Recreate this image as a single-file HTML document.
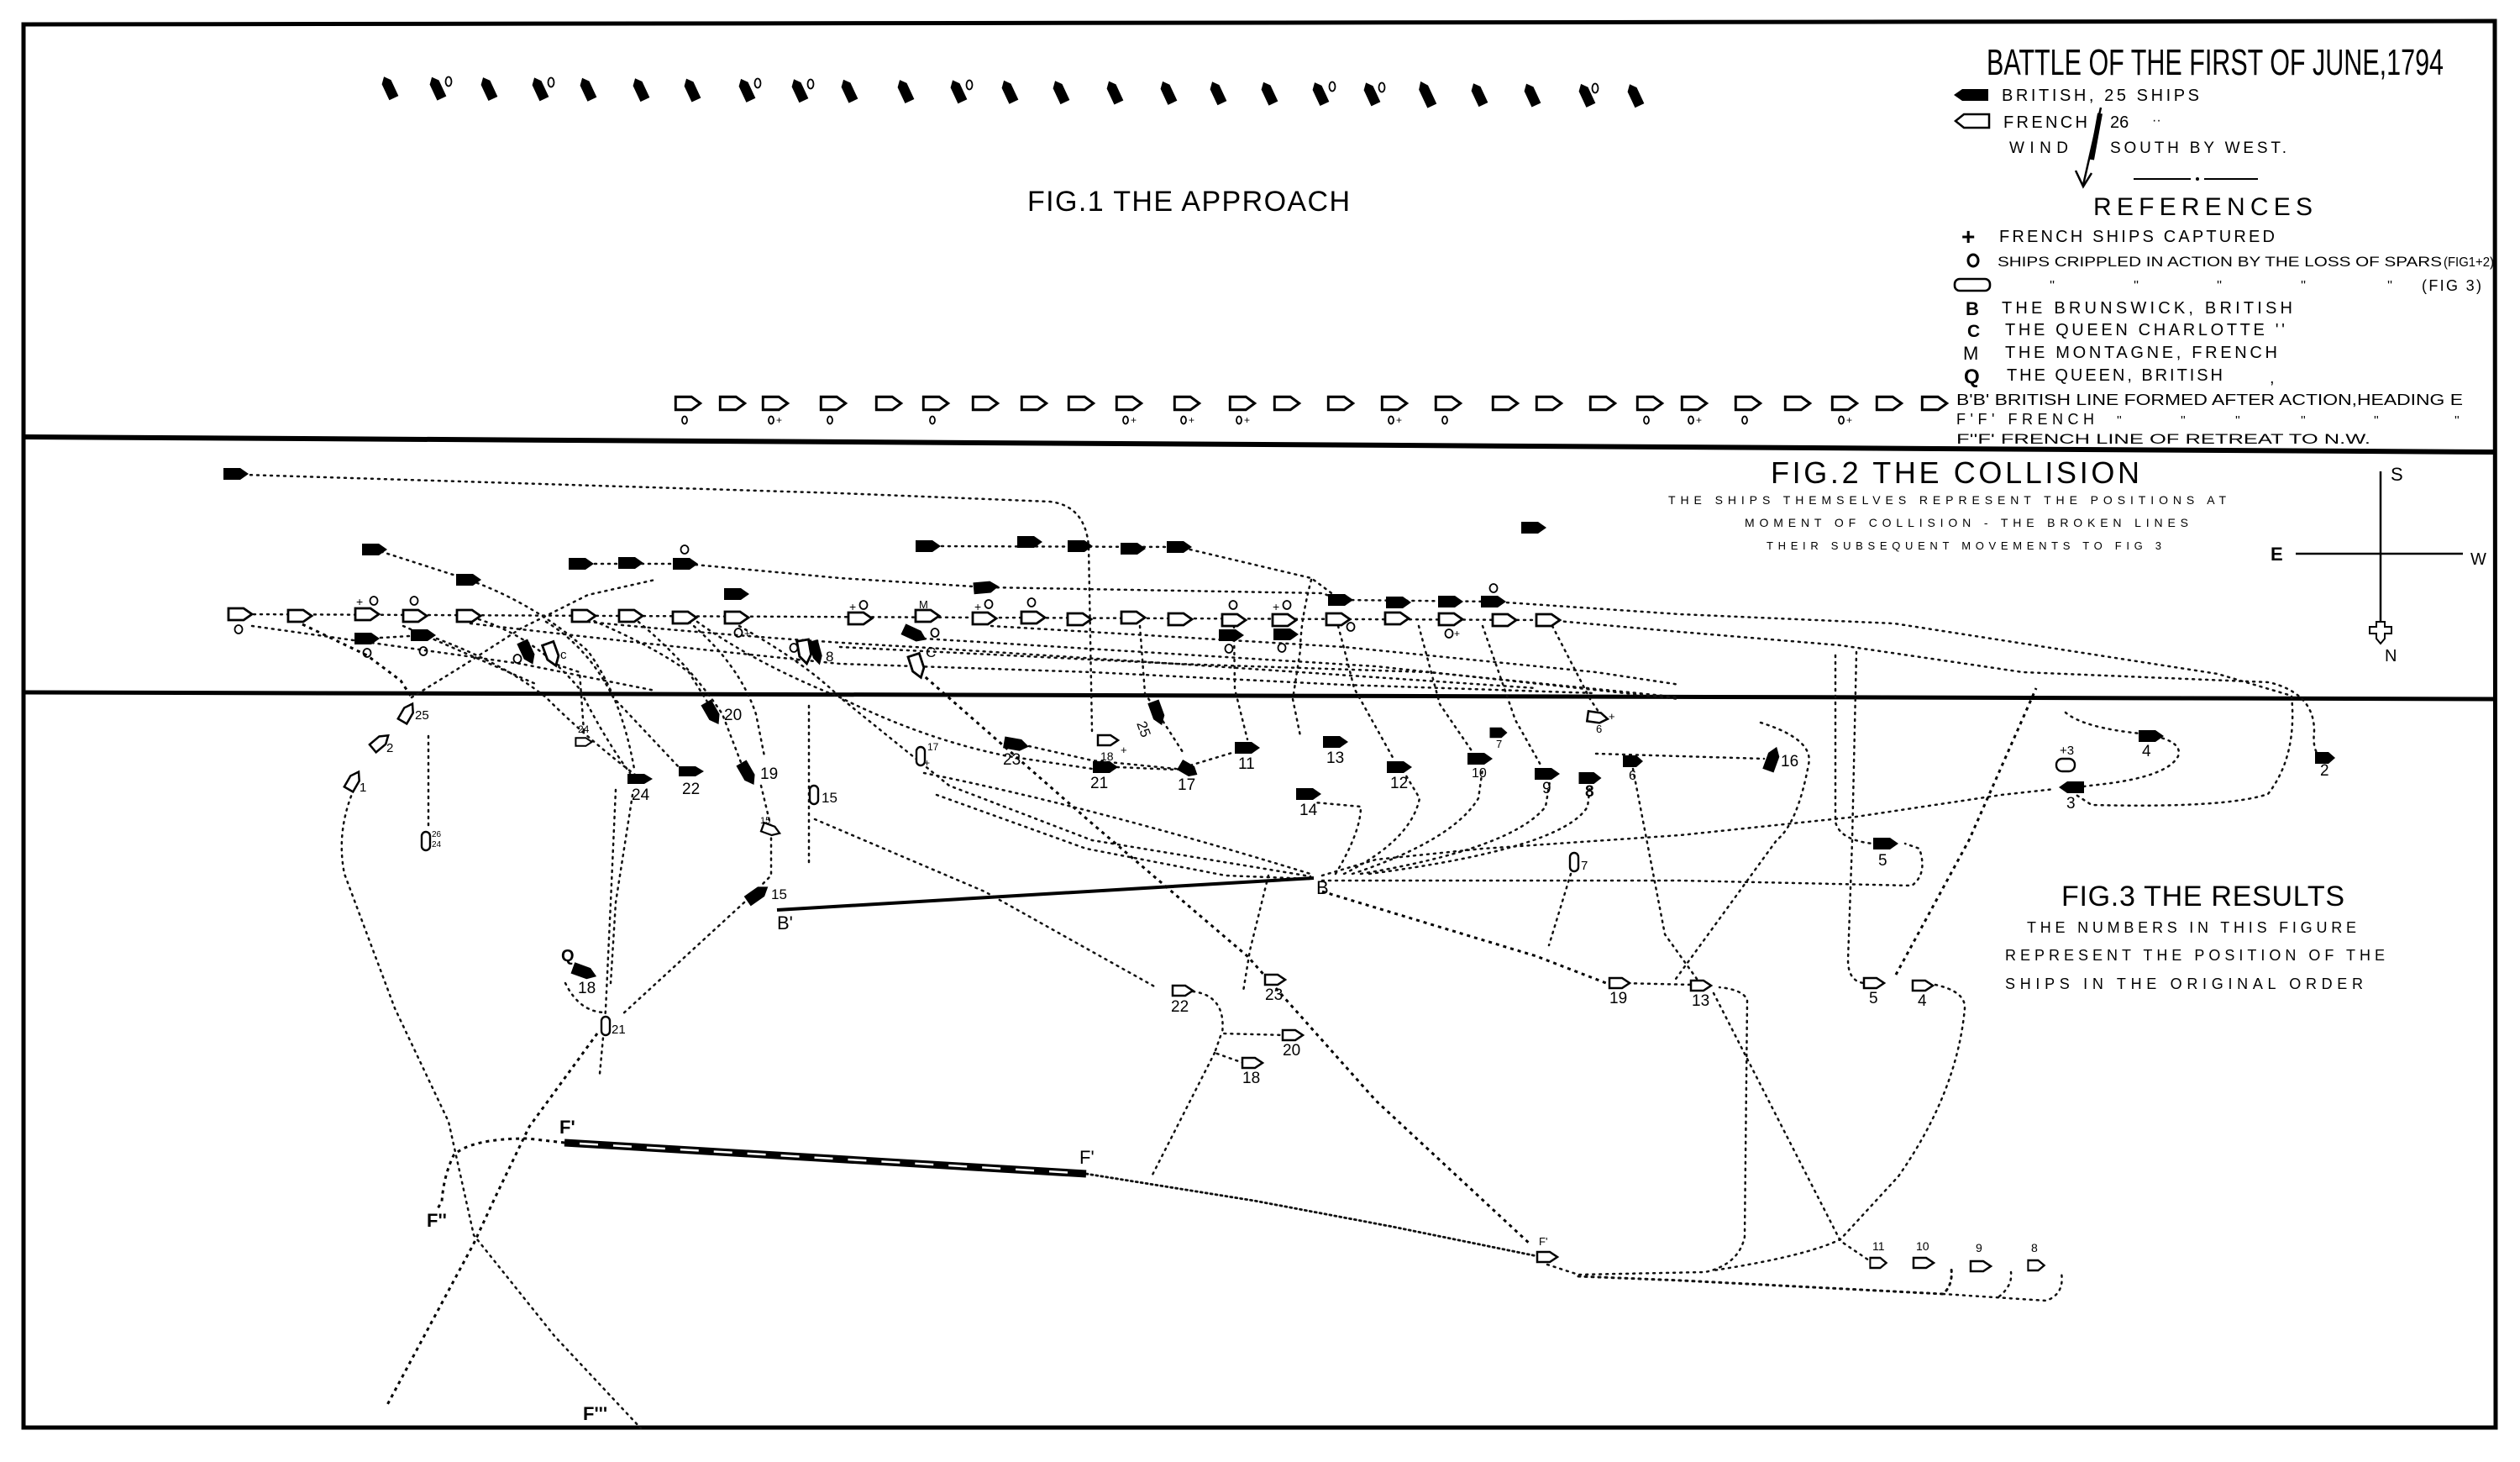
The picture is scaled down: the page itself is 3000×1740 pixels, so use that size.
<!DOCTYPE html>
<html><head><meta charset="utf-8"><style>
html,body{margin:0;padding:0;background:#fff}
svg{display:block}
text{font-family:"Liberation Sans",sans-serif;fill:#000}
.d{fill:none;stroke:#111;stroke-width:2.5;stroke-dasharray:2 6;stroke-linecap:round}
.dd{fill:none;stroke:#000;stroke-width:3;stroke-dasharray:4 5}
.o{fill:none;stroke:#000;stroke-width:1.8}
.n{font-size:19px}
</style></head><body>
<svg width="3000" height="1740" viewBox="0 0 3000 1740" xmlns="http://www.w3.org/2000/svg">
<defs>
<path id="bs" d="M-15,-7 L5,-7 L15,0 L5,7 L-15,7 Z" fill="#000"/>
<path id="bs1" d="M-14,-6 L7,-6 L14,0 L7,6 L-14,6 Z" fill="#000"/>
<path id="fs" d="M-14,-7 L4,-7 L14,0 L4,7 L-14,7 Z" fill="#fff" stroke="#000" stroke-width="2.8"/>
<path id="fs2" d="M-12,-6 L3,-6 L12,0 L3,6 L-12,6 Z" fill="#fff" stroke="#000" stroke-width="2.5"/>
<rect id="oc" x="-5" y="-11" width="10" height="22" rx="5" fill="#fff" stroke="#000" stroke-width="2.4"/>
</defs>

<!-- frame -->
<path d="M28,29 L2970,25 L2971,1699 L28,1699 Z" fill="none" stroke="#000" stroke-width="5"/>
<path d="M28,520 L2970,538" stroke="#000" stroke-width="6"/>
<path d="M28,824 L2970,832" stroke="#000" stroke-width="5"/>

<!-- FIG 1 -->
<g>
<use href="#bs1" transform="translate(463,104) rotate(-115)"/>
<use href="#bs1" transform="translate(520,104.4) rotate(-115)"/>
<use href="#bs1" transform="translate(581,104.8) rotate(-115)"/>
<use href="#bs1" transform="translate(642,105.1) rotate(-115)"/>
<use href="#bs1" transform="translate(699,105.5) rotate(-115)"/>
<use href="#bs1" transform="translate(762,105.9) rotate(-115)"/>
<use href="#bs1" transform="translate(823,106.3) rotate(-115)"/>
<use href="#bs1" transform="translate(888,106.6) rotate(-115)"/>
<use href="#bs1" transform="translate(951,107) rotate(-115)"/>
<use href="#bs1" transform="translate(1010,107.4) rotate(-115)"/>
<use href="#bs1" transform="translate(1077,107.8) rotate(-115)"/>
<use href="#bs1" transform="translate(1140,108.1) rotate(-115)"/>
<use href="#bs1" transform="translate(1201,108.5) rotate(-115)"/>
<use href="#bs1" transform="translate(1262,108.9) rotate(-115)"/>
<use href="#bs1" transform="translate(1326,109.3) rotate(-115)"/>
<use href="#bs1" transform="translate(1390,109.6) rotate(-115)"/>
<use href="#bs1" transform="translate(1449,110) rotate(-115)"/>
<use href="#bs1" transform="translate(1510,110.4) rotate(-115)"/>
<use href="#bs1" transform="translate(1571,110.8) rotate(-115)"/>
<use href="#bs1" transform="translate(1632,111.1) rotate(-115)"/>
<use href="#bs1" transform="translate(1698,111.5) rotate(-115) scale(1.15,1)"/>
<use href="#bs1" transform="translate(1760,111.9) rotate(-115)"/>
<use href="#bs1" transform="translate(1823,112.3) rotate(-115)"/>
<use href="#bs1" transform="translate(1888,112.6) rotate(-115)"/>
<use href="#bs1" transform="translate(1946,113) rotate(-115)"/>
<ellipse class="o" cx="534" cy="97" rx="3.5" ry="5.5"/>
<ellipse class="o" cx="656" cy="98" rx="3.5" ry="5.5"/>
<ellipse class="o" cx="902" cy="99" rx="3.5" ry="5.5"/>
<ellipse class="o" cx="965" cy="100" rx="3.5" ry="5.5"/>
<ellipse class="o" cx="1154" cy="101" rx="3.5" ry="5.5"/>
<ellipse class="o" cx="1586" cy="103" rx="3.5" ry="5.5"/>
<ellipse class="o" cx="1645" cy="104" rx="3.5" ry="5.5"/>
<ellipse class="o" cx="1899" cy="105" rx="3.5" ry="5.5"/>
</g>
<text x="1223" y="251" font-size="34" textLength="384" lengthAdjust="spacing">FIG.1 THE APPROACH</text>

<g>
<use href="#fs" transform="translate(819,480) scale(1.05,1.1)"/>
<use href="#fs" transform="translate(872,480) scale(1.05,1.1)"/>
<use href="#fs" transform="translate(923,480) scale(1.05,1.1)"/>
<use href="#fs" transform="translate(992,480) scale(1.05,1.1)"/>
<use href="#fs" transform="translate(1058,480) scale(1.05,1.1)"/>
<use href="#fs" transform="translate(1114,480) scale(1.05,1.1)"/>
<use href="#fs" transform="translate(1173,480) scale(1.05,1.1)"/>
<use href="#fs" transform="translate(1231,480) scale(1.05,1.1)"/>
<use href="#fs" transform="translate(1287,480) scale(1.05,1.1)"/>
<use href="#fs" transform="translate(1344,480) scale(1.05,1.1)"/>
<use href="#fs" transform="translate(1413,480) scale(1.05,1.1)"/>
<use href="#fs" transform="translate(1479,480) scale(1.05,1.1)"/>
<use href="#fs" transform="translate(1532,480) scale(1.05,1.1)"/>
<use href="#fs" transform="translate(1596,480) scale(1.05,1.1)"/>
<use href="#fs" transform="translate(1660,480) scale(1.05,1.1)"/>
<use href="#fs" transform="translate(1724,480) scale(1.05,1.1)"/>
<use href="#fs" transform="translate(1792,480) scale(1.05,1.1)"/>
<use href="#fs" transform="translate(1844,480) scale(1.05,1.1)"/>
<use href="#fs" transform="translate(1908,480) scale(1.05,1.1)"/>
<use href="#fs" transform="translate(1964,480) scale(1.05,1.1)"/>
<use href="#fs" transform="translate(2017,480) scale(1.05,1.1)"/>
<use href="#fs" transform="translate(2081,480) scale(1.05,1.1)"/>
<use href="#fs" transform="translate(2140,480) scale(1.05,1.1)"/>
<use href="#fs" transform="translate(2196,480) scale(1.05,1.1)"/>
<use href="#fs" transform="translate(2249,480) scale(1.05,1.1)"/>
<use href="#fs" transform="translate(2303,480) scale(1.05,1.1)"/>
<ellipse class="o" cx="815" cy="500" rx="3" ry="4.5"/>
<ellipse class="o" cx="918" cy="500" rx="3" ry="4.5"/><text x="924" y="504" font-size="12">+</text>
<ellipse class="o" cx="988" cy="500" rx="3" ry="4.5"/>
<ellipse class="o" cx="1110" cy="500" rx="3" ry="4.5"/>
<ellipse class="o" cx="1340" cy="500" rx="3" ry="4.5"/><text x="1346" y="504" font-size="12">+</text>
<ellipse class="o" cx="1409" cy="500" rx="3" ry="4.5"/><text x="1415" y="504" font-size="12">+</text>
<ellipse class="o" cx="1475" cy="500" rx="3" ry="4.5"/><text x="1481" y="504" font-size="12">+</text>
<ellipse class="o" cx="1656" cy="500" rx="3" ry="4.5"/><text x="1662" y="504" font-size="12">+</text>
<ellipse class="o" cx="1720" cy="500" rx="3" ry="4.5"/>
<ellipse class="o" cx="1960" cy="500" rx="3" ry="4.5"/>
<ellipse class="o" cx="2013" cy="500" rx="3" ry="4.5"/><text x="2019" y="504" font-size="12">+</text>
<ellipse class="o" cx="2077" cy="500" rx="3" ry="4.5"/>
<ellipse class="o" cx="2192" cy="500" rx="3" ry="4.5"/><text x="2198" y="504" font-size="12">+</text>
</g>

<!-- LEGEND -->
<text x="2365" y="89" font-size="44" textLength="544" lengthAdjust="spacingAndGlyphs">BATTLE OF THE FIRST OF JUNE,1794</text>
<path d="M2326,113 L2336,106 L2367,106 L2367,120 L2336,120 Z" fill="#000"/>
<text x="2383" y="120" font-size="20" textLength="235" lengthAdjust="spacing">BRITISH, 25 SHIPS</text>
<path d="M2328,144 L2338,136 L2368,136 L2368,152 L2338,152 Z" fill="none" stroke="#000" stroke-width="2.5"/>
<text x="2385" y="152" font-size="20" textLength="100" lengthAdjust="spacing">FRENCH</text>
<text x="2512" y="152" font-size="20">26</text>
<text x="2562" y="148" font-size="16">··</text>
<text x="2392" y="182" font-size="19" textLength="70" lengthAdjust="spacing">WIND</text>
<text x="2512" y="182" font-size="19" textLength="210" lengthAdjust="spacing">SOUTH BY WEST.</text>
<path d="M2501,128 L2480,220" stroke="#000" stroke-width="2.5"/>
<path d="M2500,135 L2490,190" stroke="#000" stroke-width="6"/>
<path d="M2471,203 L2480,222 L2490,206" fill="none" stroke="#000" stroke-width="2.5"/>
<path d="M2540,213 L2608,213 M2624,213 L2688,213" stroke="#000" stroke-width="2"/>
<circle cx="2616" cy="213" r="2"/>
<text x="2492" y="256" font-size="30" textLength="261" lengthAdjust="spacing">REFERENCES</text>
<text x="2335" y="291" font-size="28" font-weight="bold">+</text>
<text x="2380" y="288" font-size="20" textLength="328" lengthAdjust="spacing">FRENCH SHIPS CAPTURED</text>
<ellipse cx="2349" cy="310" rx="6" ry="7" fill="none" stroke="#000" stroke-width="3"/>
<text x="2378" y="317" font-size="17" textLength="529" lengthAdjust="spacingAndGlyphs">SHIPS CRIPPLED IN ACTION BY THE LOSS OF SPARS</text>
<text x="2909" y="317" font-size="16" textLength="60" lengthAdjust="spacingAndGlyphs">(FIG1+2)</text>
<rect x="2327" y="332" width="42" height="14" rx="6" fill="none" stroke="#000" stroke-width="2.6"/>
<text x="2440" y="345" font-size="16">''</text><text x="2540" y="345" font-size="16">''</text><text x="2639" y="345" font-size="16">''</text><text x="2739" y="345" font-size="16">''</text><text x="2842" y="345" font-size="16">''</text>
<text x="2883" y="346" font-size="18" textLength="71" lengthAdjust="spacing">(FIG 3)</text>
<text x="2340" y="375" font-size="22" font-weight="bold">B</text>
<text x="2383" y="373" font-size="20" textLength="346" lengthAdjust="spacing">THE BRUNSWICK, BRITISH</text>
<text x="2342" y="401" font-size="21" font-weight="bold">C</text>
<text x="2387" y="399" font-size="20" textLength="333" lengthAdjust="spacing">THE QUEEN CHARLOTTE ''</text>
<text x="2337" y="428" font-size="22">M</text>
<text x="2387" y="426" font-size="20" textLength="324" lengthAdjust="spacing">THE MONTAGNE, FRENCH</text>
<text x="2338" y="456" font-size="24" font-weight="bold">Q</text>
<text x="2389" y="453" font-size="20" textLength="257" lengthAdjust="spacing">THE QUEEN, BRITISH</text>
<text x="2702" y="456" font-size="20">,</text>
<text x="2329" y="482" font-size="18" textLength="603" lengthAdjust="spacingAndGlyphs">B'B' BRITISH LINE FORMED AFTER ACTION,HEADING E</text>
<text x="2329" y="505" font-size="18" textLength="164" lengthAdjust="spacing">F'F' FRENCH</text>
<text x="2520" y="505" font-size="15">''</text><text x="2596" y="505" font-size="15">''</text><text x="2661" y="505" font-size="15">''</text><text x="2739" y="505" font-size="15">''</text><text x="2826" y="505" font-size="15">''</text><text x="2922" y="505" font-size="15">''</text>
<text x="2329" y="528" font-size="17" textLength="493" lengthAdjust="spacingAndGlyphs">F''F' FRENCH LINE OF RETREAT TO N.W.</text>

<!-- FIG 2 text -->
<text x="2108" y="575" font-size="36" textLength="439" lengthAdjust="spacing">FIG.2 THE COLLISION</text>
<text x="1986" y="600" font-size="14" textLength="664" lengthAdjust="spacing">THE SHIPS THEMSELVES REPRESENT THE POSITIONS AT</text>
<text x="2077" y="627" font-size="14" textLength="528" lengthAdjust="spacing">MOMENT OF COLLISION - THE BROKEN LINES</text>
<text x="2103" y="654" font-size="13" textLength="470" lengthAdjust="spacing">THEIR SUBSEQUENT MOVEMENTS TO FIG 3</text>
<path d="M2834,561 L2834,742 M2733,659 L2932,659" stroke="#000" stroke-width="2.5"/>
<path d="M2829,740 L2839,740 L2839,746 L2847,746 L2847,754 L2839,754 L2839,760 L2834,766 L2829,760 L2829,754 L2821,754 L2821,746 L2829,746 Z" fill="#fff" stroke="#000" stroke-width="2"/>
<text x="2846" y="572" font-size="22">S</text>
<text x="2703" y="667" font-size="22" font-weight="bold">E</text>
<text x="2941" y="672" font-size="20">W</text>
<text x="2839" y="787" font-size="20">N</text>

<!-- FIG 3 text -->
<text x="2454" y="1078" font-size="34" textLength="337" lengthAdjust="spacing">FIG.3 THE RESULTS</text>
<text x="2413" y="1110" font-size="18" textLength="392" lengthAdjust="spacing">THE NUMBERS IN THIS FIGURE</text>
<text x="2387" y="1143" font-size="18" textLength="452" lengthAdjust="spacing">REPRESENT THE POSITION OF THE</text>
<text x="2387" y="1177" font-size="18" textLength="426" lengthAdjust="spacing">SHIPS IN THE ORIGINAL ORDER</text>

<!-- DOTTED TRACKS -->
<g>
<path class="d" d="M290,565 L1000,587 L1250,597 Q1292,602 1296,650 L1300,870"/>
<path class="d" d="M446,654 L558,690 Q640,720 700,775 Q740,830 755,915"/>
<path class="d" d="M692,671 L816,671 L1000,688 L1174,699 L1574,706 L1596,714 L1778,716"/>
<path class="d" d="M286,731 L1843,738 L2000,752 L2191,768 L2408,800 L2701,812 Q2755,825 2755,870 Q2752,900 2768,902"/>
<path class="d" d="M1778,716 L2000,731 L2255,742 L2640,802 L2728,828 Q2735,900 2700,945 Q2650,962 2490,958 L2470,945"/>
<path class="d" d="M1105,650 L1404,651 L1561,688 L1596,714"/>
<path class="d" d="M437,760 L504,756"/>
<path class="dd" d="M360,743 L437,780 L477,810 L490,830"/>
<path class="d" d="M490,830 L550,793 L620,748 L700,708 L780,690"/>
<path class="d" d="M570,737 Q640,760 690,820 Q720,880 750,920"/>
<path class="d" d="M520,760 Q600,790 650,830 Q700,880 760,925"/>
<path class="d" d="M650,740 Q700,770 730,830 L810,915"/>
<path class="d" d="M700,736 Q780,770 820,800 L845,840"/>
<path class="d" d="M760,740 Q820,790 860,850 L885,915"/>
<path class="d" d="M820,740 Q880,790 900,850 L910,900"/>
<path class="d" d="M880,745 Q960,790 1000,830 L1130,935 L1300,1000 L1560,1043"/>
<path class="d" d="M830,740 Q900,790 1000,830 Q1100,880 1200,900 L1300,915"/>
<path class="d" d="M1100,760 L1638,793 L2000,832"/>
<path class="d" d="M1000,770 L1400,790 L1829,819"/>
<path class="d" d="M1180,745 L1600,770 L1900,800 L2000,815"/>
<path class="d" d="M300,745 L620,790 L780,822"/>
<path class="d" d="M480,745 Q560,780 640,815"/>
<path class="d" d="M700,740 Q900,760 1089,770 L1400,790 L1700,800 L2000,830"/>
<path class="d" d="M560,742 Q800,770 1000,790 L1300,800 L1600,815 L1900,825"/>
<path class="d" d="M1357,745 L1363,825 L1408,895"/>
<path class="d" d="M1561,690 Q1548,740 1548,774 L1539,832 L1548,876"/>
<path class="d" d="M1593,745 Q1605,790 1612,819 L1660,905"/>
<path class="d" d="M1689,745 L1714,838 L1753,895"/>
<path class="d" d="M1765,745 L1804,857 L1835,912"/>
<path class="d" d="M1848,745 L1893,832 L1905,850"/>
<path class="d" d="M1469,745 L1470,820 L1485,880"/>
<path class="d" d="M2210,776 L2205,1000 L2200,1142 Q2200,1168 2219,1170"/>
<path class="d" d="M2185,780 L2185,978 Q2190,1000 2230,1004"/>
<path class="d" d="M2459,848 Q2480,866 2548,873 Q2600,880 2593,900 Q2580,925 2497,934 L2480,936"/>
<path class="d" d="M2096,860 Q2160,880 2153,910 Q2140,980 2115,1000 L1995,1165"/>
<path class="d" d="M1900,897 L2100,903"/>
<path class="dd" d="M1095,800 L1300,980 L1485,1138 L1638,1310 L1823,1482"/>
<path class="d" style="stroke-dasharray:2 4;stroke-width:2.8" d="M1293,1397 L1493,1429 L1658,1460 L1830,1495"/>
<path class="d" d="M1842,1505 L1879,1517 L2030,1514 Q2070,1505 2077,1472 L2080,1190 Q2075,1178 2047,1175"/>
<path class="d" style="stroke-width:3" d="M1879,1519 L2002,1524 L2313,1540 Q2325,1530 2323,1510"/>
<path class="d" d="M2313,1540 L2436,1548 Q2458,1540 2454,1515"/>
<path class="d" d="M2380,1543 Q2396,1530 2394,1514"/>
<path class="d" d="M2040,1182 L2191,1477 L2225,1500"/>
<path class="d" d="M2304,1172 Q2340,1180 2339,1200 Q2330,1300 2260,1400 L2191,1475 Q2150,1495 2040,1512"/>
<path class="dd" d="M2257,1160 L2344,1000 L2424,819"/>
<path class="d" d="M1944,915 L1982,1112 L2020,1165"/>
<path class="d" d="M1870,1040 L1844,1125"/>
<path class="d" d="M1574,1048 L2000,1048 L2276,1054 Q2295,1040 2285,1010 L2268,1004"/>
<path class="d" d="M1574,1042 L1638,1023 L1765,1010 L2000,994 L2210,972 L2383,946 L2446,939"/>
<path class="dd" d="M1574,1061 L1829,1138 L1912,1170"/>
<path class="d" d="M1930,1170 L2015,1172"/>
<path class="d" d="M1590,1040 Q1620,990 1620,960 L1565,955"/>
<path class="d" d="M1600,1040 Q1680,1000 1690,950 L1672,920"/>
<path class="d" d="M1610,1040 Q1730,1000 1760,950 L1765,915"/>
<path class="d" d="M1620,1040 Q1800,1010 1840,960 L1845,930"/>
<path class="d" d="M1630,1040 Q1860,1010 1890,960 L1893,935"/>
<path class="d" d="M421,940 Q400,990 410,1040 L470,1200 L534,1335 L564,1470 L660,1590 L763,1700"/>
<path class="d" d="M510,876 L510,988"/>
<path class="dd" d="M672,1360 L628,1355 Q560,1355 540,1375 Q528,1400 526,1430 L520,1440"/>
<path class="dd" d="M711,1230 L630,1341 L589,1426 L564,1480 L461,1672"/>
<path class="d" d="M733,940 L727,1074 L721,1202 L714,1278"/>
<path class="d" d="M753,946 L733,1074 L727,1170"/>
<path class="d" d="M673,1170 Q690,1205 721,1205"/>
<path class="d" d="M886,1074 L740,1208"/>
<path class="d" d="M906,935 L918,985 L918,1042 L905,1055"/>
<path class="d" d="M970,975 L1172,1061 L1376,1175"/>
<path class="d" d="M1115,946 L1293,1010 L1459,1042 L1560,1046"/>
<path class="d" d="M1100,920 Q1300,960 1560,1040"/>
<path class="d" d="M1225,888 L1300,905 L1400,915"/>
<path class="d" d="M1330,913 L1400,916 L1470,895"/>
<path class="d" d="M1510,1042 L1488,1131 L1480,1180"/>
<path class="d" d="M1420,1180 Q1460,1185 1455,1230 L1530,1232"/>
<path class="d" d="M1453,1233 L1446,1253 L1480,1265"/>
<path class="d" d="M1446,1253 L1370,1402"/>
<path class="d" d="M963,840 L963,1030"/>
<path class="d" d="M695,870 L690,800 L660,790"/>
</g>

<!-- FIG 2 ships -->
<g>
<use href="#bs" transform="translate(281,564)"/>
<use href="#bs" transform="translate(446,654)"/>
<use href="#bs" transform="translate(558,690)"/>
<use href="#bs" transform="translate(692,671)"/>
<use href="#bs" transform="translate(751,670)"/>
<use href="#bs" transform="translate(816,671)"/>
<use href="#bs" transform="translate(877,707)"/>
<use href="#bs" transform="translate(437,760)"/>
<use href="#bs" transform="translate(504,756)"/>
<use href="#bs" transform="translate(1105,650)"/>
<use href="#bs" transform="translate(1226,645)"/>
<use href="#bs" transform="translate(1286,650)"/>
<use href="#bs" transform="translate(1349,653)"/>
<use href="#bs" transform="translate(1404,651)"/>
<use href="#bs" transform="translate(1174,699) rotate(-5)"/>
<use href="#bs" transform="translate(1826,628)"/>
<use href="#bs" transform="translate(1596,714)"/>
<use href="#bs" transform="translate(1665,717)"/>
<use href="#bs" transform="translate(1727,716)"/>
<use href="#bs" transform="translate(1778,716)"/>
<use href="#bs" transform="translate(1466,756)"/>
<use href="#bs" transform="translate(1531,755)"/>
<use href="#fs" transform="translate(286,731)"/>
<use href="#fs" transform="translate(357,733)"/>
<use href="#fs" transform="translate(437,731)"/>
<use href="#fs" transform="translate(494,733)"/>
<use href="#fs" transform="translate(558,733)"/>
<use href="#fs" transform="translate(695,733)"/>
<use href="#fs" transform="translate(751,733)"/>
<use href="#fs" transform="translate(815,735)"/>
<use href="#fs" transform="translate(877,735)"/>
<use href="#fs" transform="translate(1024,736)"/>
<use href="#fs" transform="translate(1104,733)"/>
<use href="#fs" transform="translate(1172,736)"/>
<use href="#fs" transform="translate(1230,735)"/>
<use href="#fs" transform="translate(1285,737)"/>
<use href="#fs" transform="translate(1349,735)"/>
<use href="#fs" transform="translate(1405,737)"/>
<use href="#fs" transform="translate(1469,738)"/>
<use href="#fs" transform="translate(1529,738)"/>
<use href="#fs" transform="translate(1593,737)"/>
<use href="#fs" transform="translate(1663,736)"/>
<use href="#fs" transform="translate(1727,737)"/>
<use href="#fs" transform="translate(1791,738)"/>
<use href="#fs" transform="translate(1843,738)"/>
<use href="#bs" transform="translate(628,777) rotate(65)"/>
<use href="#fs" transform="translate(657,779) rotate(70)"/>
<use href="#fs" transform="translate(958,776) rotate(80)"/>
<use href="#bs" transform="translate(972,777) rotate(75) scale(1,0.8)"/>
<use href="#bs" transform="translate(1089,755) rotate(25)"/>
<use href="#fs" transform="translate(1092,793) rotate(72)"/>
<ellipse class="o" cx="284" cy="749" rx="4.5" ry="5"/>
<text x="424" y="721" font-size="14">+</text><ellipse class="o" cx="445" cy="715" rx="4.5" ry="5"/>
<ellipse class="o" cx="493" cy="715" rx="4.5" ry="5"/>
<ellipse class="o" cx="879" cy="753" rx="4.5" ry="5"/><text x="886" y="758" font-size="12">+</text>
<ellipse class="o" cx="437" cy="777" rx="4.5" ry="5"/>
<ellipse class="o" cx="504" cy="775" rx="4.5" ry="5"/>
<ellipse class="o" cx="815" cy="654" rx="4.5" ry="5"/>
<text x="1011" y="727" font-size="14">+</text><ellipse class="o" cx="1028" cy="720" rx="4.5" ry="5"/>
<text x="1094" y="724" font-size="13">M</text>
<text x="1160" y="727" font-size="14">+</text><ellipse class="o" cx="1177" cy="719" rx="4.5" ry="5"/>
<ellipse class="o" cx="1228" cy="717" rx="4.5" ry="5"/>
<ellipse class="o" cx="1468" cy="720" rx="4.5" ry="5"/>
<text x="1515" y="727" font-size="14">+</text><ellipse class="o" cx="1532" cy="720" rx="4.5" ry="5"/>
<ellipse class="o" cx="1608" cy="746" rx="4.5" ry="5"/>
<ellipse class="o" cx="1725" cy="754" rx="4.5" ry="5"/><text x="1731" y="758" font-size="12">+</text>
<ellipse class="o" cx="1778" cy="700" rx="4.5" ry="5"/>
<ellipse class="o" cx="1463" cy="772" rx="4.5" ry="5"/>
<ellipse class="o" cx="1526" cy="771" rx="4.5" ry="5"/>
<ellipse class="o" cx="1113" cy="753" rx="4.5" ry="5"/>
<text x="1102" y="782" font-size="17">C</text>
<ellipse class="o" cx="616" cy="784" rx="4.5" ry="5"/>
<text x="667" y="784" font-size="15">c</text>
<ellipse class="o" cx="945" cy="771" rx="4.5" ry="5"/><text x="945" y="790" font-size="12">+</text>
<text x="983" y="787" font-size="17">8</text>
</g>

<!-- FIG 3 ships -->
<g>
<use href="#bs" transform="translate(848,849) rotate(60)"/><text class="n" x="862" y="857">20</text>
<use href="#bs" transform="translate(762,927) scale(1,0.85)"/><text class="n" x="752" y="952">24</text>
<use href="#bs" transform="translate(823,918) scale(1,0.85)"/><text class="n" x="812" y="945">22</text>
<use href="#bs" transform="translate(890,921) rotate(60)"/><text class="n" x="905" y="927">19</text>
<use href="#bs" transform="translate(902,1064) rotate(-35)"/><text x="918" y="1070" font-size="17">15</text>
<use href="#bs" transform="translate(696,1157) rotate(20)"/><text x="668" y="1144" font-size="20" font-weight="bold">Q</text><text class="n" x="688" y="1182">18</text>
<use href="#bs" transform="translate(1378,849) rotate(70)"/><text x="1355" y="872" font-size="17" transform="rotate(70 1362 865)">25</text>
<use href="#bs" transform="translate(1210,886) rotate(10)"/><text class="n" x="1194" y="910">23</text>
<use href="#bs" transform="translate(1316,913)"/><text class="n" x="1298" y="938">21</text>
<use href="#bs" transform="translate(1415,916) rotate(30) scale(0.8,1)"/><text class="n" x="1402" y="940">17</text>
<use href="#bs" transform="translate(1485,890)"/><text class="n" x="1474" y="915">11</text>
<use href="#bs" transform="translate(1590,883)"/><text class="n" x="1579" y="908">13</text>
<use href="#bs" transform="translate(1666,913)"/><text class="n" x="1655" y="938">12</text>
<use href="#bs" transform="translate(1558,945)"/><text class="n" x="1547" y="970">14</text>
<use href="#bs" transform="translate(1784,872) scale(0.7,0.9)"/><text x="1781" y="890" font-size="13">7</text>
<use href="#bs" transform="translate(1762,903)"/><text x="1752" y="925" font-size="16">10</text>
<use href="#bs" transform="translate(1842,921)"/><text class="n" x="1836" y="944">9</text>
<use href="#bs" transform="translate(1893,926) scale(0.9,1)"/><text class="n" x="1887" y="948" font-weight="bold">8</text>
<use href="#bs" transform="translate(1944,906) scale(0.8,1)"/><text x="1939" y="928" font-size="16">6</text>
<use href="#bs" transform="translate(2110,903) rotate(-70)"/><text class="n" x="2120" y="912">16</text>
<use href="#bs" transform="translate(2466,937) rotate(180)"/><text class="n" x="2460" y="962">3</text>
<use href="#bs" transform="translate(2561,876)"/><text class="n" x="2550" y="900">4</text>
<use href="#bs" transform="translate(2768,902) scale(0.8,1)"/><text class="n" x="2762" y="923">2</text>
<use href="#bs" transform="translate(2245,1004)"/><text class="n" x="2236" y="1030">5</text>

<use href="#fs2" transform="translate(485,848) rotate(-60)"/><text x="494" y="856" font-size="15">25</text>
<use href="#fs2" transform="translate(453,883) rotate(-40)"/><text x="460" y="895" font-size="15">2</text>
<use href="#fs2" transform="translate(421,929) rotate(-60)"/><text x="428" y="942" font-size="15">1</text>
<use href="#oc" transform="translate(507,1001)"/><text x="514" y="996" font-size="10">26</text><text x="514" y="1008" font-size="10">24</text>
<use href="#fs2" transform="translate(695,883) scale(0.8)"/><text x="688" y="872" font-size="12">24</text>
<use href="#oc" transform="translate(969,946)"/><text x="978" y="955" font-size="17">15</text>
<use href="#fs2" transform="translate(918,988) rotate(20) scale(0.9)"/><text x="905" y="980" font-size="11">15</text>
<use href="#oc" transform="translate(721,1221)"/><text x="728" y="1230" font-size="15">21</text>
<use href="#oc" transform="translate(1096,900)"/><text x="1104" y="893" font-size="12">17</text><text x="1100" y="912" font-size="12">+</text>
<use href="#fs2" transform="translate(1319,881)"/><text x="1310" y="905" font-size="14">18</text><text x="1334" y="897" font-size="13">+</text>
<use href="#fs2" transform="translate(1902,854) rotate(8)"/><text x="1900" y="872" font-size="13">6</text><text x="1915" y="857" font-size="13">+</text>
<use href="#oc" transform="translate(1874,1026)"/><text x="1882" y="1035" font-size="15">7</text>
<rect x="2448" y="903" width="22" height="15" rx="7" fill="#fff" stroke="#000" stroke-width="2.4"/><text x="2452" y="898" font-size="15">+3</text>
<use href="#fs2" transform="translate(1408,1179)"/><text class="n" x="1394" y="1204">22</text>
<use href="#fs2" transform="translate(1518,1166)"/><text class="n" x="1506" y="1190">23</text>
<use href="#fs2" transform="translate(1539,1232)"/><text class="n" x="1527" y="1256">20</text>
<use href="#fs2" transform="translate(1491,1265)"/><text class="n" x="1479" y="1289">18</text>
<use href="#fs2" transform="translate(1928,1170)"/><text class="n" x="1916" y="1194">19</text>
<use href="#fs2" transform="translate(2025,1173)"/><text class="n" x="2014" y="1197">13</text>
<use href="#fs2" transform="translate(2231,1170)"/><text class="n" x="2225" y="1194">5</text>
<use href="#fs2" transform="translate(2289,1173)"/><text class="n" x="2283" y="1197">4</text>
<use href="#fs2" transform="translate(1842,1496)"/><text x="1832" y="1482" font-size="13">F'</text>
<use href="#fs2" transform="translate(2236,1503) scale(0.8,1)"/><text x="2229" y="1488" font-size="14">11</text>
<use href="#fs2" transform="translate(2290,1503)"/><text x="2281" y="1488" font-size="14">10</text>
<use href="#fs2" transform="translate(2358,1507)"/><text x="2352" y="1490" font-size="14">9</text>
<use href="#fs2" transform="translate(2424,1506) scale(0.8,1)"/><text x="2418" y="1490" font-size="14">8</text>
</g>

<!-- B and F lines -->
<path d="M925,1083 L1564,1045" stroke="#000" stroke-width="4"/>
<text x="925" y="1106" font-size="22">B'</text>
<text x="1567" y="1064" font-size="22">B</text>
<path d="M672,1360 L1293,1397" stroke="#000" stroke-width="9"/>
<path d="M690,1361 L1280,1396" stroke="#fff" stroke-width="2.5" stroke-dasharray="22 18"/>
<text x="666" y="1349" font-size="22" font-weight="bold">F'</text>
<text x="1285" y="1385" font-size="22">F'</text>
<text x="508" y="1460" font-size="22" font-weight="bold">F''</text>
<text x="694" y="1690" font-size="22" font-weight="bold">F'''</text>
</svg>
</body></html>
